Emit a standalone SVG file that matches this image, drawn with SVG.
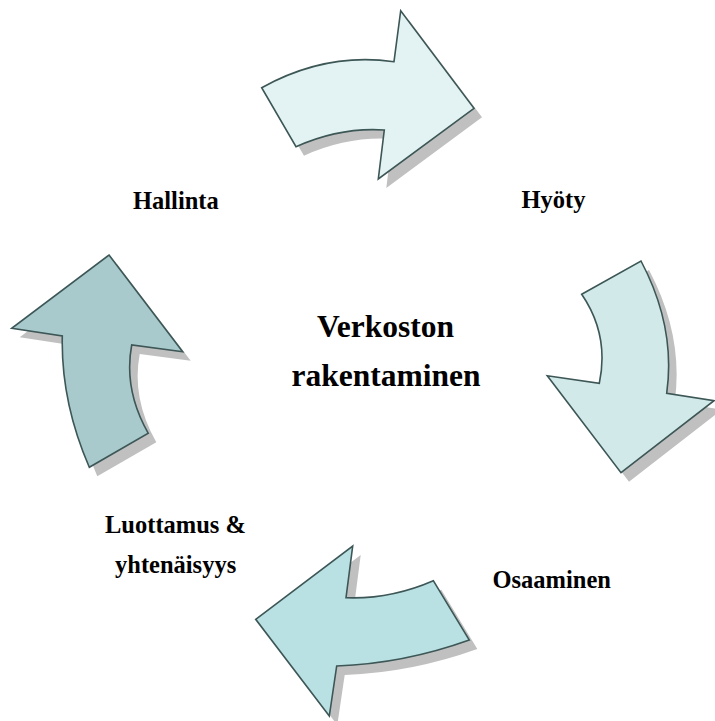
<svg xmlns="http://www.w3.org/2000/svg" width="715" height="721" viewBox="0 0 715 721">
  <defs>
    <style>
      .shadow { fill: #c0c0c0; stroke: none; }
      .arrow { stroke: #3d5656; stroke-width: 1.6; stroke-linejoin: miter; }
      .label { font-family: "Liberation Serif", "Times New Roman", serif; font-weight: bold; font-size: 24.5px; fill: #000; }
      .title { font-family: "Liberation Serif", "Times New Roman", serif; font-weight: bold; font-size: 31.5px; fill: #000; text-anchor: middle; }
    </style>
    <path id="arrow-top-shape" d="M261.7,87.7 Q326,52 394,61.7 L400.7,10.7 L474,108.3 L378.3,179 L384.3,130 Q340,127 296,146.7 Z"/>
    <path id="arrow-right-shape" d="M581.7,294.3 L641,261 Q676,327 666.7,393.3 L714,400.7 L621,472.7 L547.3,375.7 L599.3,383.3 Q609.5,335 581.7,294.3 Z"/>
    <path id="arrow-bottom-shape" d="M433.3,580.7 L469.3,640 Q403.6,663.6 336.7,666 L329.3,716 L255.7,619.3 L352.7,546 L346,597.7 Q390.3,599.4 433.3,580.7 Z"/>
    <path id="arrow-left-shape" d="M109,255 L182.7,351.7 L131.7,345 Q123.4,389.4 148.3,433.3 L89.3,467.3 Q60.8,401.7 62.3,336 L11.7,328.3 Z"/>
  </defs>

  <rect width="715" height="721" fill="#ffffff"/>

  <!-- cycle arrows with drop shadows -->
  <g id="connectors">
    <g id="arrow-top">
      <use href="#arrow-top-shape" class="shadow" transform="translate(8,9)"/>
      <use href="#arrow-top-shape" class="arrow" fill="#e3f3f3"/>
    </g>
    <g id="arrow-right">
      <use href="#arrow-right-shape" class="shadow" transform="translate(8,9)"/>
      <use href="#arrow-right-shape" class="arrow" fill="#d2e9ea"/>
    </g>
    <g id="arrow-bottom">
      <use href="#arrow-bottom-shape" class="shadow" transform="translate(8,9)"/>
      <use href="#arrow-bottom-shape" class="arrow" fill="#b9e0e3"/>
    </g>
    <g id="arrow-left">
      <use href="#arrow-left-shape" class="shadow" transform="translate(8,9)"/>
      <use href="#arrow-left-shape" class="arrow" fill="#a8cacc"/>
    </g>
  </g>

  <!-- stage labels -->
  <g id="node-hallinta">
    <text class="label" x="133" y="209">Hallinta</text>
  </g>
  <g id="node-hyoty">
    <text class="label" x="521.5" y="208">Hyöty</text>
  </g>
  <g id="node-osaaminen">
    <text class="label" x="492.5" y="588">Osaaminen</text>
  </g>
  <g id="node-luottamus">
    <text class="label" x="105" y="533">Luottamus &amp;</text>
    <text class="label" x="115" y="573">yhtenäisyys</text>
  </g>

  <!-- centre title -->
  <g id="node-center">
    <text class="title" x="385.5" y="337">Verkoston</text>
    <text class="title" x="386" y="386">rakentaminen</text>
  </g>
</svg>
